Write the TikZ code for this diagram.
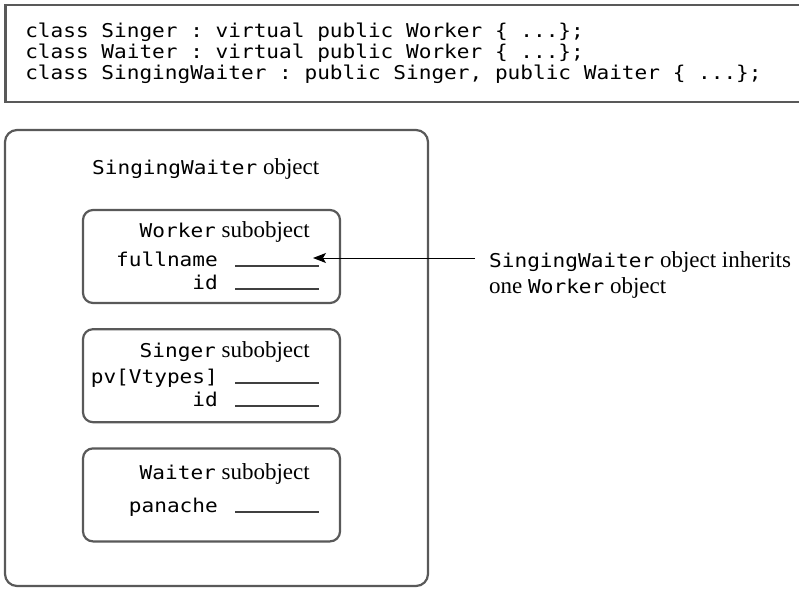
\documentclass[tikz,border=0pt]{standalone}
\usepackage{fontspec}
\setmainfont{Liberation Serif}
\newfontfamily\codefont[FakeStretch=1.11]{DejaVu Sans Mono}
\usetikzlibrary{arrows.meta,positioning}

\newcommand{\monofont}{\fontsize{19}{21}\selectfont\codefont}
\newcommand{\cname}[1]{{\monofont #1}}
% full-width spaces in the code lines
\newcommand{\codespaces}{\spaceskip=\fontcharwd\font`x\relax\xspaceskip=\spaceskip}

\begin{document}
\begin{tikzpicture}[
x=1pt, y=-1pt,
font=\fontsize{23}{26}\selectfont,
node distance=24pt,
codebox/.style={draw=black!65, line width=2.5pt, text width=790pt, inner xsep=20pt, minimum height=97pt, align=left, font=\monofont},
panel/.style={draw=black!65, line width=2.2pt, rounded corners=12pt, minimum width=423pt, minimum height=456pt},
subbox/.style={draw=black!65, line width=2.2pt, rounded corners=10pt, minimum width=257pt, minimum height=93pt},
field/.style={anchor=base east, inner sep=0pt},
label/.style={anchor=base west, inner sep=0pt},
blank/.style={draw=black!75, line width=1.4pt},
arr/.style={-{Stealth[length=13pt,width=10pt,inset=3pt]}, line width=1pt}
]
\useasboundingbox[fill=white] (0,0) rectangle (799,588);

% class declarations
\node[codebox, anchor=north west] (decl) at (4,4) {\codespaces class Singer : virtual public Worker \{ ...\};\\
class Waiter : virtual public Worker \{ ...\};\\
class SingingWaiter : public Singer, public Waiter \{ ...\};};

% the object and its subobjects
\node[panel] (sw) at (216.5,358) {};
\node[label] (swtitle) at (92,175) {\cname{SingingWaiter} object};

\node[subbox] (worker) at (211.5,256.5) {};
\node[subbox, below=of worker] (singer) {};
\node[subbox, below=of singer] (waiter) {};

\node[field] (workertitle) at (310,237) {\cname{Worker} subobject};
\node[field] (fullname) at (218,266) {\cname{fullname}};
\node[field] (wid) at (218,289) {\cname{id}};
\draw[blank] (235,266) -- (319,266);
\draw[blank] (235,289) -- (319,289);

\node[field] (singertitle) at (310,357) {\cname{Singer} subobject};
\node[field] (pv) at (218,383) {\cname{pv[Vtypes]}};
\node[field] (sid) at (218,406) {\cname{id}};
\draw[blank] (235,383) -- (319,383);
\draw[blank] (235,406) -- (319,406);

\node[field] (waitertitle) at (310,479) {\cname{Waiter} subobject};
\node[field] (panache) at (218,512) {\cname{panache}};
\draw[blank] (235,512) -- (319,512);

% note on the right
\node[label] (note1) at (489,267) {\cname{SingingWaiter} object inherits};
\node[label] (note2) at (489,293) {one \cname{Worker} object};
\coordinate (wtip) at (313,258);

\draw[arr] (note1.west |- wtip) ++(-14,0) -- (wtip);
\end{tikzpicture}
\end{document}
